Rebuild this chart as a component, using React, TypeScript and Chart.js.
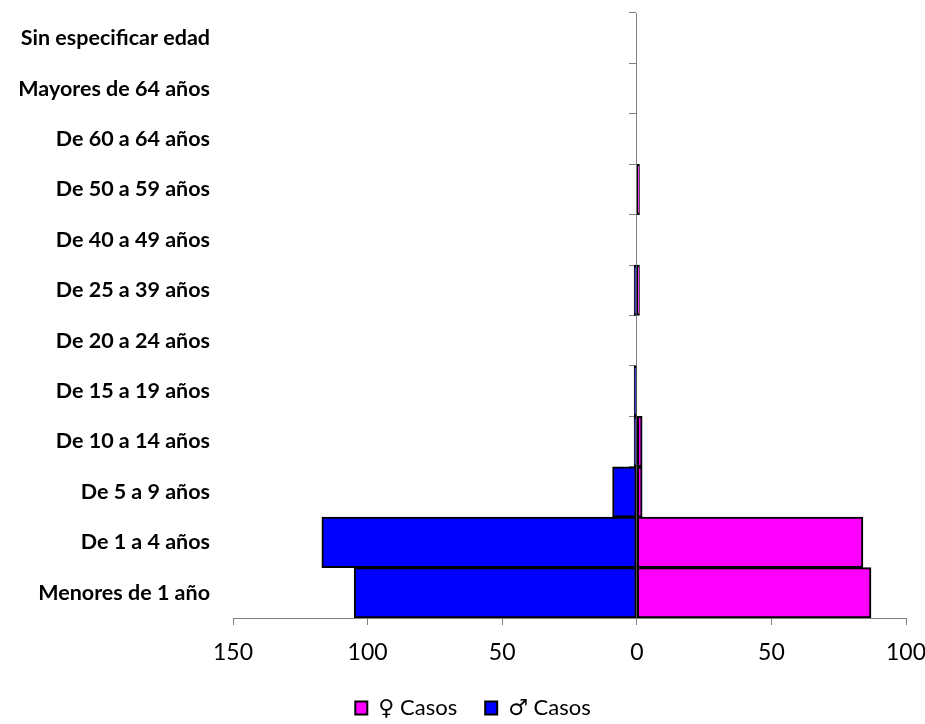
import React, { useEffect, useRef } from "react";
import { Chart, registerables } from "chart.js";

Chart.register(...registerables);

const categories = [
  "Menores de 1 año",
  "De 1 a 4 años",
  "De 5 a 9 años",
  "De 10 a 14 años",
  "De 15 a 19 años",
  "De 20 a 24 años",
  "De 25 a 39 años",
  "De 40 a 49 años",
  "De 50 a 59 años",
  "De 60 a 64 años",
  "Mayores de 64 años",
  "Sin especificar edad",
];

const femaleCases = [87, 84, 2, 2, 0, 0, 1, 0, 1, 0, 0, 0];
const maleCases = [105, 117, 9, 1, 1, 0, 1, 0, 0, 0, 0, 0];

const xTicks = [-150, -100, -50, 0, 50, 100];

const FONT = "Lato, 'Open Sans', 'DejaVu Sans', sans-serif";

const legendShift = {
  id: "legendShift",
  afterLayout(chart: any) {
    const lg = chart.legend;
    if (!lg) return;
    const dx = 20;
    const dy = 5;
    lg.left += dx;
    lg.right += dx;
    lg.top += dy;
    lg.bottom += dy;
  },
};

export default function App() {
  const ref = useRef<HTMLCanvasElement | null>(null);

  useEffect(() => {
    if (!ref.current) return;
    const chart = new Chart(ref.current, {
      type: "bar",
      data: {
        labels: categories,
        datasets: [
          {
            label: "♀ Casos",
            data: femaleCases,
            backgroundColor: "#FF00FF",
            borderColor: "#000000",
            borderWidth: 2,
            borderSkipped: false,
            barPercentage: 1,
            categoryPercentage: 1,
            yAxisID: "y",
          },
          {
            label: "♂ Casos",
            data: maleCases.map((v) => -v),
            backgroundColor: "#0000FF",
            borderColor: "#000000",
            borderWidth: 2,
            borderSkipped: false,
            barPercentage: 1,
            categoryPercentage: 1,
            yAxisID: "y",
          },
        ],
      },
      plugins: [legendShift],
      options: {
        indexAxis: "y",
        animation: false,
        responsive: true,
        maintainAspectRatio: false,
        layout: { padding: { top: 13, right: 19, left: 0, bottom: 0 } },
        plugins: {
          legend: {
            position: "bottom",
            labels: {
              font: { family: FONT, size: 22 },
              color: "#000",
              boxWidth: 12,
              boxHeight: 13,
              padding: 28,
            },
          },
          tooltip: { enabled: false },
        },
        scales: {
          x: {
            type: "linear",
            stacked: true,
            min: -150,
            max: 100,
            afterBuildTicks: (scale: any) => {
              scale.ticks = xTicks.map((v) => ({ value: v }));
            },
            afterFit: (scale: any) => {
              scale.height = 46;
              scale.paddingLeft = 0;
              scale.paddingRight = 0;
            },
            ticks: {
              stepSize: 50,
              callback: (v: any) => String(Math.abs(Number(v))),
              font: { family: FONT, size: 23 },
              color: "#000",
              padding: 14,
              maxRotation: 0,
            },
            grid: {
              drawOnChartArea: false,
              drawTicks: true,
              tickLength: 7,
              color: "#808080",
            },
            border: { display: true, color: "#808080", width: 1 },
          },
          y: {
            type: "category",
            stacked: true,
            reverse: true,
            afterFit: (scale: any) => {
              scale.width = 233;
              scale.paddingTop = 0;
              scale.paddingBottom = 0;
            },
            ticks: {
              font: { family: FONT, size: 21.5, weight: "bold" },
              color: "#000",
              padding: 15,
            },
            grid: { display: false },
            border: { display: false },
          },
          y2: {
            type: "category",
            position: { x: 0 } as any,
            reverse: true,
            offset: true,
            afterFit: (scale: any) => {
              scale.paddingTop = 0;
              scale.paddingBottom = 0;
            },
            ticks: { display: false },
            grid: {
              drawOnChartArea: false,
              drawTicks: true,
              tickLength: 7,
              offset: true,
              color: "#808080",
            },
            border: { display: true, color: "#808080", width: 1 },
          },
        },
      },
    });
    return () => chart.destroy();
  }, []);

  return (
    <div style={{ position: "fixed", left: 0, top: 0, width: 925, height: 724, background: "#fff" }}>
      <canvas ref={ref} />
    </div>
  );
}
